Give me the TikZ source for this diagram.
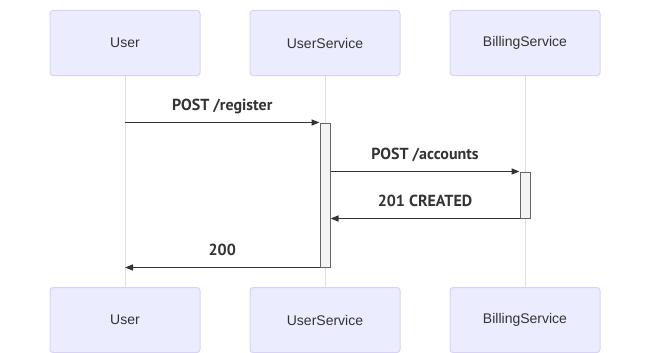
\documentclass[tikz,border=0pt]{standalone}
\usepackage{fontspec}
\setmainfont{Liberation Sans}
\newfontfamily\msgfont{PT Sans}
\usetikzlibrary{arrows.meta}
\definecolor{ink}{HTML}{333333}
\definecolor{actorfill}{HTML}{ECECFF}
\definecolor{actorline}{HTML}{DAD2F4}
\definecolor{lifeline}{HTML}{E0DEE8}
\definecolor{actfill}{HTML}{F4F4F4}
\definecolor{actline}{HTML}{666666}

\begin{document}
\begin{tikzpicture}[x=1pt,y=-1pt,text=ink,>={Triangle[length=8pt,width=6pt]},
  actor/.style={draw=actorline,fill=actorfill,rounded corners=3pt,line width=1pt,
    minimum width=150pt,minimum height=65pt,inner sep=0pt,font=\fontsize{14}{16}\selectfont},
  bar/.style={draw=actline,fill=actfill,line width=1pt,minimum width=10pt,inner sep=0pt},
  msg/.style={->,ink,line width=1.5pt},
  lbl/.style={font=\msgfont\bfseries\fontsize{16}{18}\selectfont,text depth=4pt,
    above=4pt,midway}]
  \useasboundingbox (0,0) rectangle (650,353);

  % participants, top and bottom
  \node[actor] (userT) at (125,43) {User};
  \node[actor] (svcT) at (325,43) {UserService};
  \node[actor] (billT) at (525,43) {BillingService};
  \node[actor] (userB) at (125,320) {User};
  \node[actor] (svcB) at (325,320) {UserService};
  \node[actor] (billB) at (525,320) {BillingService};

  % lifelines
  \draw[lifeline,line width=1pt] (userT) -- (userB);
  \draw[lifeline,line width=1pt] (svcT) -- (svcB);
  \draw[lifeline,line width=1pt] (billT) -- (billB);

  % activations
  \node[bar,minimum height=144pt] (svcAct) at (325,195) {};
  \node[bar,minimum height=46pt] (billAct) at (525,195) {};

  % messages
  \draw[msg] (userT |- svcAct.north west) -- (svcAct.north west)
    node[lbl] {POST /register};
  \draw[msg] (svcAct.east |- billAct.north west) -- (billAct.north west)
    node[lbl] {POST /accounts};
  \draw[msg] (billAct.south west) -- (svcAct.east |- billAct.south west)
    node[lbl] {201 CREATED};
  \draw[msg] (svcAct.south west) -- (userT |- svcAct.south west)
    node[lbl] {200};
\end{tikzpicture}
\end{document}
